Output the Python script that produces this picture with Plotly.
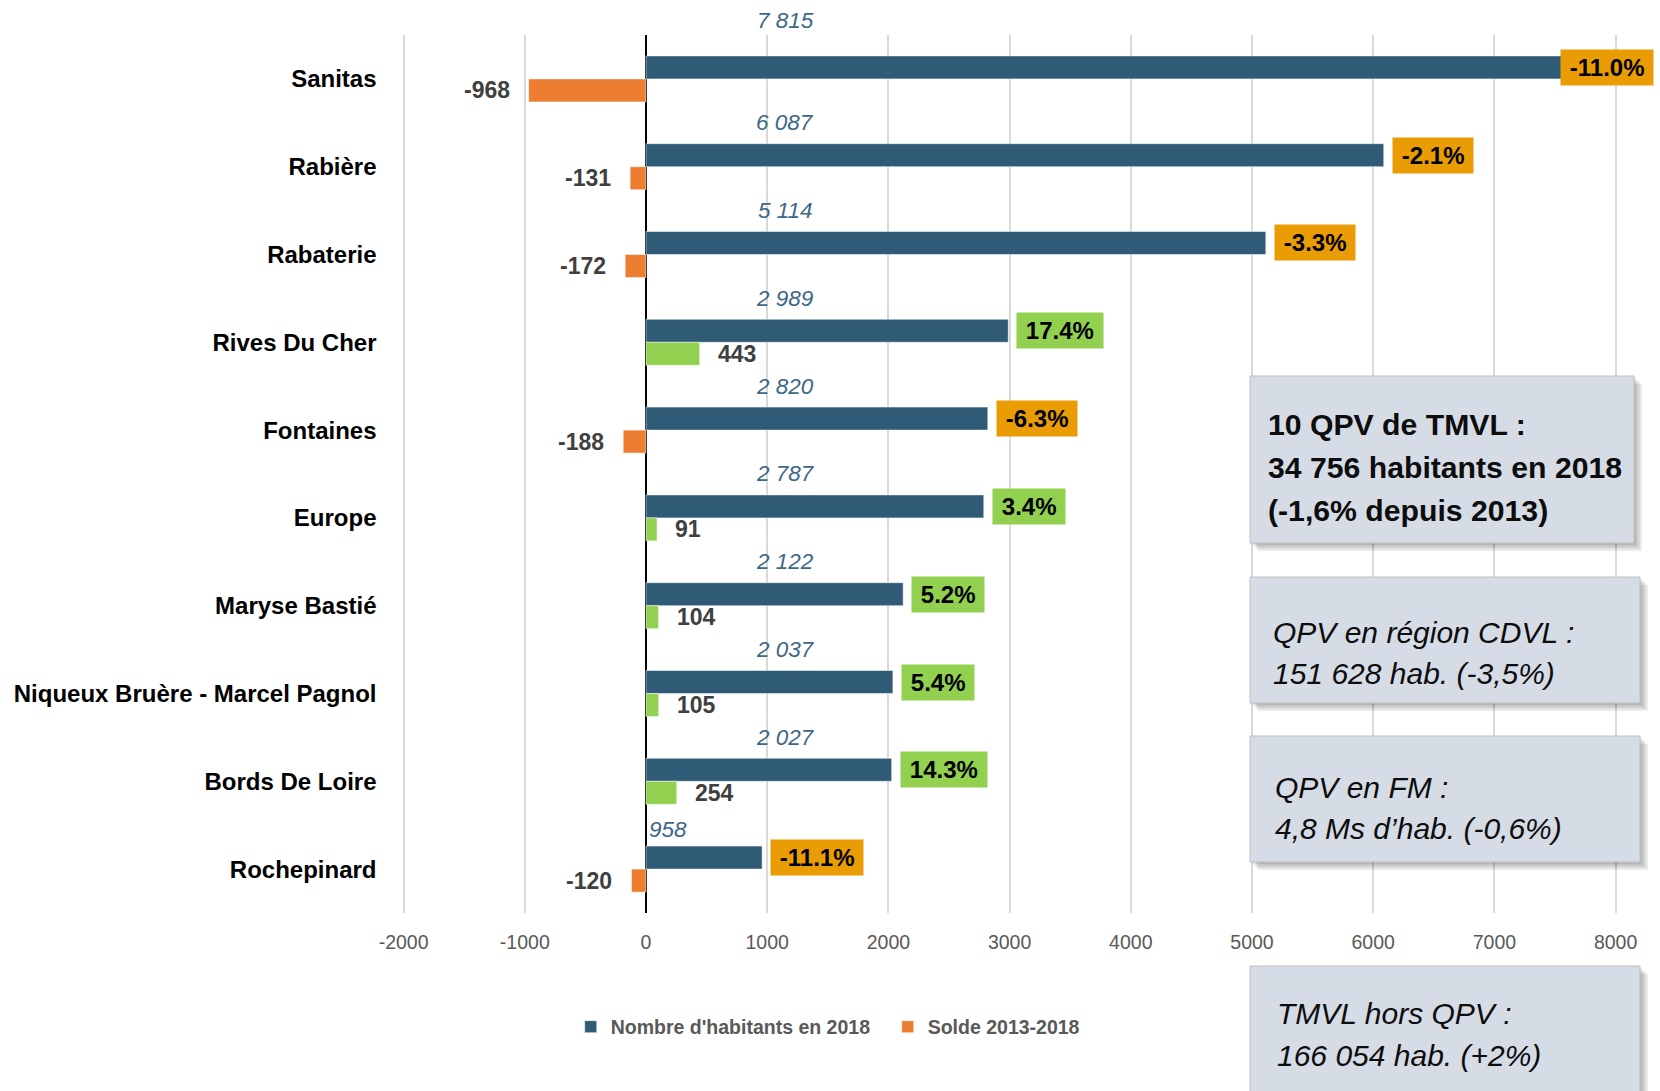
import plotly.graph_objects as go

# ---------------- data ----------------
categories = ["Sanitas", "Rabière", "Rabaterie", "Rives Du Cher", "Fontaines", "Europe",
              "Maryse Bastié", "Niqueux Bruère - Marcel Pagnol", "Bords De Loire", "Rochepinard"]
habitants_2018 = [7815, 6087, 5114, 2989, 2820, 2787, 2122, 2037, 2027, 958]
solde_2013_2018 = [-968, -131, -172, 443, -188, 91, 104, 105, 254, -120]
evolution_pct = [-11.0, -2.1, -3.3, 17.4, -6.3, 3.4, 5.2, 5.4, 14.3, -11.1]
x_tick_values = [-2000, -1000, 0, 1000, 2000, 3000, 4000, 5000, 6000, 7000, 8000]
series_names = ["Nombre d'habitants en 2018", "Solde 2013-2018"]

box_main = ["10 QPV de TMVL :", "34 756 habitants en 2018", "(-1,6% depuis 2013)"]
box_region = ["QPV en région CDVL :", "151 628 hab. (-3,5%)"]
box_fm = ["QPV en FM :", "4,8 Ms d’hab. (-0,6%)"]
box_hors = ["TMVL hors QPV :", "166 054 hab. (+2%)"]

# ---------------- styles ----------------
W, H = 1660, 1091
BLUE = "#2F5B76"
ORANGE = "#ED7D31"
GREEN = "#92D050"
PCT_ORANGE = "#E99C04"
BOX_FILL = "#D6DCE5"
SANS = "Liberation Sans, Arial, sans-serif"


def px(x):
    return x / W


def py(y):
    return 1 - y / H


fmt_int = lambda v: f"{v:,}".replace(",", " ")

fig = go.Figure()
fig.add_trace(go.Bar(
    y=categories, x=habitants_2018, orientation="h", name=series_names[0],
    marker=dict(color=BLUE, line=dict(color="rgba(255,255,255,0.5)", width=1)),
    hoverinfo="x+y",
))
fig.add_trace(go.Bar(
    y=categories, x=solde_2013_2018, orientation="h", name=series_names[1],
    marker=dict(color=[ORANGE if v < 0 else GREEN for v in solde_2013_2018],
                line=dict(color="rgba(255,255,255,0.5)", width=1)),
    hoverinfo="x+y",
))

annotations = []
for i, (cat, hab, sol, pct) in enumerate(zip(categories, habitants_2018, solde_2013_2018, evolution_pct)):
    # population label (italic, above the bar)
    lab_font = dict(family=SANS, size=22.5, color="#3D6887", style="italic")
    if hab > 1500:
        annotations.append(dict(x=1150, y=cat, xref="x", yref="y", xanchor="center", yanchor="middle",
                                yshift=58 if i == 0 else 44, text=fmt_int(hab), showarrow=False,
                                font=lab_font))
    else:
        annotations.append(dict(x=0, y=cat, xref="x", yref="y", xanchor="left", yanchor="middle",
                                xshift=1, yshift=40, text=fmt_int(hab), showarrow=False,
                                font=lab_font))
    # balance label
    annotations.append(dict(x=sol, y=cat, xref="x", yref="y",
                            xanchor="right" if sol < 0 else "left", yanchor="middle",
                            xshift=-17 if sol < 0 else 16, yshift=-11.5,
                            text=f"<b>{sol}</b>", showarrow=False,
                            font=dict(family=SANS, size=23, color="#404040")))
    # percentage box
    pct_text = "<b>\u2009" + f"{pct:.1f}%" + "\u2009</b>"
    bg = PCT_ORANGE if pct < 0 else GREEN
    pct_font = dict(family=SANS, size=24, color="#000000")
    if hab > 7500:
        annotations.append(dict(x=8000, y=cat, xref="x", yref="y", xanchor="right", yanchor="middle",
                                xshift=38, yshift=11.5, text=pct_text, showarrow=False, bgcolor=bg,
                                borderpad=4, font=pct_font))
    else:
        annotations.append(dict(x=hab, y=cat, xref="x", yref="y", xanchor="left", yanchor="middle",
                                xshift=8, yshift=11.5, text=pct_text, showarrow=False, bgcolor=bg,
                                borderpad=4, font=pct_font))

# ---------------- info boxes ----------------
shapes = []
boxes = [
    (1250, 376, 1634, 543, box_main, [424, 468, 510], 1266, True),
    (1250, 577, 1640, 703, box_region, [632, 673], 1271, False),
    (1250, 736, 1640, 862, box_fm, [787, 828], 1273, False),
    (1250, 966, 1640, 1130, box_hors, [1013, 1055], 1275, False),
]
for (x0, y0, x1, y1, lines, ys, tx, bold) in boxes:
    for k in (2, 4, 6, 8):
        shapes.append(dict(type="rect", xref="paper", yref="paper",
                           x0=px(x0 + k), x1=px(x1 + k), y0=py(y0 + k), y1=py(y1 + k),
                           fillcolor="rgba(0,0,0,0.08)", line=dict(width=0), layer="above"))
    shapes.append(dict(type="rect", xref="paper", yref="paper",
                       x0=px(x0), x1=px(x1), y0=py(y0), y1=py(y1),
                       fillcolor=BOX_FILL, line=dict(color="#BFBFBF", width=1), layer="above"))
    for line, yy in zip(lines, ys):
        annotations.append(dict(x=px(tx), y=py(yy), xref="paper", yref="paper",
                                xanchor="left", yanchor="middle", showarrow=False,
                                text=(f"<b>{line}</b>" if bold else line),
                                font=dict(family=SANS, size=30.2 if bold else 30, color="#0D0D0D",
                                          style="normal" if bold else "italic")))

x_left_px = 646 - 2.05 * 121.2
x_right_px = 646 + 8.05 * 121.2
n_cat = len(categories)

fig.update_layout(
    width=W, height=H,
    margin=dict(l=0, r=0, t=0, b=0, autoexpand=False),
    paper_bgcolor="white", plot_bgcolor="white",
    barmode="group", bargap=0.476, bargroupgap=0,
    showlegend=True,
    legend=dict(orientation="h", x=px(570.7), xanchor="left", y=py(1027), yanchor="middle",
                font=dict(family=SANS, size=19.5, color="#595959", weight="bold"),
                itemwidth=30, entrywidth=272, entrywidthmode="pixels",
                traceorder="normal", bgcolor="rgba(0,0,0,0)", borderwidth=0),
    xaxis=dict(domain=[px(x_left_px), px(x_right_px)], range=[-2050, 8050], automargin=False,
               tickvals=x_tick_values, ticktext=[str(v) for v in x_tick_values],
               showgrid=True, gridcolor="#D9D9D9", gridwidth=1.5,
               zeroline=True, zerolinecolor="#000000", zerolinewidth=1.5,
               showline=False, ticks="", ticklabelstandoff=15,
               tickfont=dict(family=SANS, size=19.5, color="#595959"), fixedrange=True),
    yaxis=dict(domain=[py(913), py(35)], type="category", categoryorder="array", automargin=False,
               categoryarray=categories, range=[n_cat - 0.5, -0.5], autorange=False,
               showgrid=False, zeroline=False, showline=False, ticks="",
               ticklabelstandoff=20,
               tickfont=dict(family=SANS, size=24, color="#000000", weight="bold"), fixedrange=True),
    annotations=annotations,
    shapes=shapes,
)

fig.write_html("out.html", config={"displayModeBar": False},
               post_script="document.body.style.margin='0';")
